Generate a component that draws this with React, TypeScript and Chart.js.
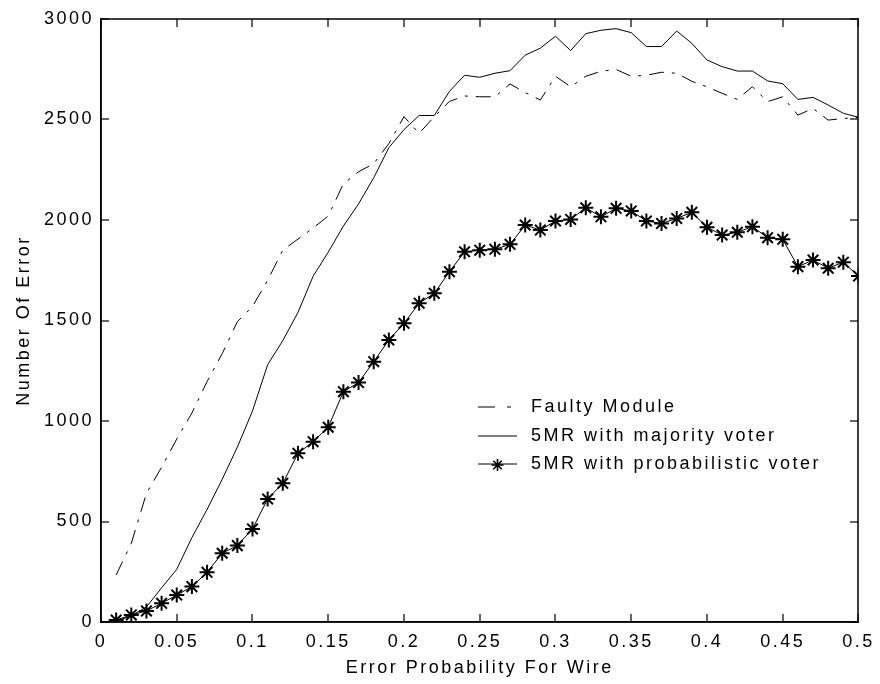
import React, { useEffect, useRef } from "react";
import { Chart, registerables } from "chart.js";

Chart.register(...registerables);

const xValues = [
  0.01, 0.02, 0.03, 0.04, 0.05, 0.06, 0.07, 0.08, 0.09, 0.1,
  0.11, 0.12, 0.13, 0.14, 0.15, 0.16, 0.17, 0.18, 0.19, 0.2,
  0.21, 0.22, 0.23, 0.24, 0.25, 0.26, 0.27, 0.28, 0.29, 0.3,
  0.31, 0.32, 0.33, 0.34, 0.35, 0.36, 0.37, 0.38, 0.39, 0.4,
  0.41, 0.42, 0.43, 0.44, 0.45, 0.46, 0.47, 0.48, 0.49, 0.5,
];

const faultyModule = [
  234, 392, 640, 770, 910, 1040, 1196, 1335, 1494, 1570,
  1700, 1850, 1905, 1960, 2020, 2180, 2240, 2280, 2380, 2514,
  2431, 2514, 2590, 2617, 2613, 2613, 2677, 2634, 2597, 2715,
  2663, 2715, 2740, 2749, 2715, 2720, 2735, 2730, 2690, 2663,
  2630, 2600, 2663, 2589, 2613, 2522, 2555, 2497, 2505, 2511,
];

const majorityVoter = [
  5, 30, 75, 170, 262, 420, 560, 710, 870, 1050,
  1280, 1400, 1540, 1720, 1840, 1970, 2080, 2210, 2360, 2450,
  2520, 2520, 2640, 2720, 2710, 2730, 2743, 2820, 2855, 2914,
  2843, 2927, 2944, 2952, 2932, 2863, 2863, 2940, 2879, 2796,
  2763, 2741, 2741, 2692, 2678, 2600, 2610, 2572, 2531, 2511,
];

const probabilisticVoter = [
  10, 35, 55, 93, 134, 176, 247, 342, 380, 463,
  612, 690, 839, 897, 969, 1146, 1191, 1295, 1403, 1486,
  1586, 1635, 1743, 1842, 1850, 1854, 1879, 1975, 1950, 1995,
  2003, 2061, 2016, 2058, 2045, 1995, 1983, 2008, 2038, 1964,
  1925, 1939, 1967, 1912, 1904, 1768, 1801, 1760, 1790, 1721,
];

const xTicks = [0, 0.05, 0.1, 0.15, 0.2, 0.25, 0.3, 0.35, 0.4, 0.45, 0.5];
const yTicks = [0, 500, 1000, 1500, 2000, 2500, 3000];

const seriesLabels = [
  "Faulty Module",
  "5MR with majority voter",
  "5MR with probabilistic voter",
];

const xTitle = "Error Probability For Wire";
const yTitle = "Number Of Error";

const FONT = "'Liberation Sans', Arial, sans-serif";
const SPACING = "2.5px";

const toPoints = (ys: number[]) => xValues.map((x, i) => ({ x, y: ys[i] }));

function drawStar(ctx: CanvasRenderingContext2D, x: number, y: number, r: number) {
  const d = r * Math.SQRT1_2;
  ctx.beginPath();
  ctx.moveTo(x - r, y);
  ctx.lineTo(x + r, y);
  ctx.moveTo(x, y - r);
  ctx.lineTo(x, y + r);
  ctx.moveTo(x - d, y - d);
  ctx.lineTo(x + d, y + d);
  ctx.moveTo(x - d, y + d);
  ctx.lineTo(x + d, y - d);
  ctx.stroke();
}

const spacingPlugin = {
  id: "letterSpacer",
  beforeDraw(chart: any) {
    (chart.ctx as any).letterSpacing = SPACING;
  },
};

const overlayPlugin = {
  id: "axisBoxAndLegend",
  afterDraw(chart: any) {
    const ctx = chart.ctx as CanvasRenderingContext2D;
    const xs = chart.scales.x;
    const ys = chart.scales.y;
    const left = Math.round(xs.getPixelForValue(0));
    const right = Math.round(xs.getPixelForValue(0.5));
    const top = Math.round(ys.getPixelForValue(3000));
    const bottom = Math.round(ys.getPixelForValue(0));
    const t = 8;
    const w = 1.5;

    ctx.save();
    ctx.fillStyle = "#000000";
    ctx.globalAlpha = 1;
    ctx.globalCompositeOperation = "source-over";
    ctx.fillRect(left - w / 2, top - w / 2, right - left + w, w);
    ctx.fillRect(left - w / 2, bottom - w / 2, right - left + w, w);
    ctx.fillRect(left - w / 2, top - w / 2, w, bottom - top + w);
    ctx.fillRect(right - w / 2, top - w / 2, w, bottom - top + w);
    for (const v of xTicks) {
      const px = Math.round(xs.getPixelForValue(v));
      ctx.fillRect(px - 0.6, bottom - t, 1.2, t);
      ctx.fillRect(px - 0.6, top, 1.2, t);
    }
    for (const v of yTicks) {
      const py = Math.round(ys.getPixelForValue(v));
      ctx.fillRect(left, py - 0.6, t, 1.2);
      ctx.fillRect(right - t, py - 0.6, t, 1.2);
    }
    ctx.restore();

    const x0 = 478;
    const x1 = 517;
    const tx = 531;
    const rows = [407, 436, 464];
    chart.data.datasets.forEach((ds: any, i: number) => {
      const y = rows[i];
      ctx.save();
      ctx.strokeStyle = ds.borderColor;
      ctx.lineWidth = ds.borderWidth;
      ctx.setLineDash(ds.borderDash && ds.borderDash.length ? [17, 12, 4, 100] : []);
      ctx.beginPath();
      ctx.moveTo(x0, y);
      ctx.lineTo(x1, y);
      ctx.stroke();
      ctx.setLineDash([]);
      if (ds.pointStyle === "star" && ds.pointRadius > 0) {
        ctx.lineWidth = 1.6;
        drawStar(ctx, (x0 + x1) / 2, y + 1, 6);
      }
      (ctx as any).letterSpacing = SPACING;
      ctx.fillStyle = "#000";
      ctx.font = `18px ${FONT}`;
      ctx.textBaseline = "middle";
      ctx.textAlign = "left";
      ctx.fillText(ds.label, tx, y);
      ctx.restore();
    });
  },
};

export default function App() {
  const canvasRef = useRef<HTMLCanvasElement | null>(null);

  useEffect(() => {
    const canvas = canvasRef.current;
    if (!canvas) return;
    const chart = new Chart(canvas, {
      type: "line",
      data: {
        datasets: [
          {
            label: seriesLabels[0],
            data: toPoints(faultyModule),
            borderColor: "#000",
            borderWidth: 1,
            borderDash: [15, 8, 3, 8],
            pointRadius: 0,
            fill: false,
            tension: 0,
          },
          {
            label: seriesLabels[1],
            data: toPoints(majorityVoter),
            borderColor: "#000",
            borderWidth: 1,
            pointRadius: 0,
            fill: false,
            tension: 0,
          },
          {
            label: seriesLabels[2],
            data: toPoints(probabilisticVoter),
            borderColor: "#000",
            borderWidth: 1,
            pointStyle: "star",
            pointRadius: 7.5,
            pointBorderWidth: 2,
            pointBorderColor: "#000",
            pointBackgroundColor: "#000",
            fill: false,
            tension: 0,
          },
        ],
      },
      options: {
        animation: false,
        responsive: false,
        devicePixelRatio: 1,
        layout: { padding: { left: 0, top: 19, right: 15, bottom: 0 } },
        plugins: {
          legend: { display: false },
          tooltip: { enabled: false },
        },
        scales: {
          x: {
            type: "linear",
            min: 0,
            max: 0.5,
            afterBuildTicks: (scale: any) => {
              scale.ticks = xTicks.map((v) => ({ value: v }));
            },
            afterFit: (scale: any) => {
              scale.height = 62;
            },
            grid: { display: false, drawTicks: false, tickLength: 0 },
            border: { display: true, color: "#000", width: 1.5 },
            ticks: {
              autoSkip: false,
              maxRotation: 0,
              padding: 9,
              color: "#000",
              font: { family: FONT, size: 18, lineHeight: 1.2 },
              callback: (v: any) => String(Number(Number(v).toFixed(2))),
            },
            title: {
              display: true,
              text: xTitle,
              color: "#000",
              font: { family: FONT, size: 18, lineHeight: 1.2 },
              padding: { top: 0, bottom: 5 },
            },
          },
          y: {
            type: "linear",
            min: 0,
            max: 3000,
            afterBuildTicks: (scale: any) => {
              scale.ticks = yTicks.map((v) => ({ value: v }));
            },
            afterFit: (scale: any) => {
              scale.width = 101;
            },
            grid: { display: false, drawTicks: false, tickLength: 0 },
            border: { display: true, color: "#000", width: 1.5 },
            ticks: {
              padding: 7,
              color: "#000",
              font: { family: FONT, size: 18, lineHeight: 1.2 },
              callback: (v: any) => String(v),
            },
            title: {
              display: true,
              text: yTitle,
              color: "#000",
              font: { family: FONT, size: 18, lineHeight: 1.2 },
              padding: { top: 13, bottom: 0 },
            },
          },
        },
      },
      plugins: [spacingPlugin, overlayPlugin],
    } as any);
    return () => chart.destroy();
  }, []);

  return (
    <div
      style={{
        position: "fixed",
        left: 0,
        top: 0,
        width: 880,
        height: 684,
        background: "#fff",
      }}
    >
      <canvas ref={canvasRef} width={880} height={684} />
    </div>
  );
}
